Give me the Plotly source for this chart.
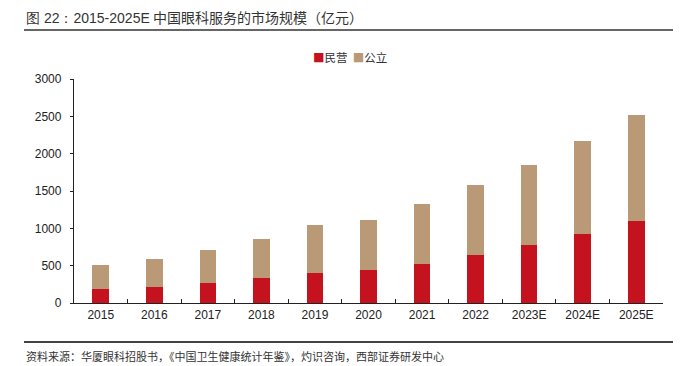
import plotly.graph_objects as go

categories = ["2015", "2016", "2017", "2018", "2019", "2020", "2021", "2022", "2023E", "2024E", "2025E"]
private_vals = [182, 218, 263, 335, 397, 437, 526, 638, 772, 928, 1102]
public_vals = [321, 375, 447, 526, 642, 678, 804, 937, 1076, 1241, 1410]
y_ticks = [0, 500, 1000, 1500, 2000, 2500, 3000]

RED = "#C5121F"
TAN = "#BA9A76"
NUM_FONT = "Liberation Sans, Arial, sans-serif"
CJK_FONT = "Noto Sans CJK SC, sans-serif"

# the page places the figure 8px in from the top-left corner
OFF = 8
W, H = 699 - OFF, 366 - OFF
# plot-area edges in window pixels
PL, PR, PT, PB = 74, 663, 79, 303
L, R, T, B = PL - OFF, W - (PR - OFF), PT - OFF, H - (PB - OFF)
pw = PR - PL
ph = PB - PT

def px_x(p):
    return (p - PL) / pw

def px_y(p):
    return (PB - p) / ph

fig = go.Figure()
fig.add_trace(go.Bar(x=categories, y=private_vals, name="民营", marker=dict(color=RED, line=dict(width=0))))
fig.add_trace(go.Bar(x=categories, y=public_vals, name="公立", marker=dict(color=TAN, line=dict(width=0))))

fig.update_layout(
    width=W, height=H,
    barmode="stack", bargap=0.69,
    margin=dict(l=L, r=R, t=T, b=B, pad=0),
    paper_bgcolor="white", plot_bgcolor="white",
    showlegend=False,
    font=dict(family=NUM_FONT, size=12, color="#222222"),
    xaxis=dict(
        type="category", showline=True, linecolor="#222222", linewidth=1.3,
        ticks="inside", ticklen=4, tickcolor="#222222", tickson="boundaries",
        showgrid=False, tickfont=dict(family=NUM_FONT, size=12, color="#222222"),
    ),
    yaxis=dict(
        range=[0, 3000], tickvals=y_ticks, showline=True, linecolor="#222222", linewidth=1.3,
        ticks="outside", ticklen=3, tickcolor="#222222", showgrid=False, zeroline=False,
        tickfont=dict(family=NUM_FONT, size=12, color="#222222"), ticklabelstandoff=6,
    ),
)

# Title
fig.add_annotation(
    xref="paper", yref="paper", x=px_x(24), y=px_y(17), xanchor="left", yanchor="middle",
    showarrow=False,
    text="<span style='font-family:Liberation Sans, Arial'>图 22：2015-2025E</span> 中国眼科服务的市场规模（亿元）",
    font=dict(family=CJK_FONT, size=14, color="#333333"),
)
# Title rule
fig.add_shape(type="line", xref="paper", yref="paper", x0=px_x(24), x1=px_x(673), y0=px_y(30), y1=px_y(30),
              line=dict(color="#333333", width=1.5))
# Legend (custom)
fig.add_annotation(
    xref="paper", yref="paper", x=px_x(311), y=px_y(57), xanchor="left", yanchor="middle", showarrow=False,
    text=f"<span style='color:{RED}'>■</span>民营  <span style='color:{TAN}'>■</span>公立",
    font=dict(family=CJK_FONT, size=11.5, color="#333333"),
)
# Footer rule
fig.add_shape(type="line", xref="paper", yref="paper", x0=px_x(24), x1=px_x(673), y0=px_y(342), y1=px_y(342),
              line=dict(color="#444444", width=2))
# Source
fig.add_annotation(
    xref="paper", yref="paper", x=px_x(24), y=px_y(356), xanchor="left", yanchor="middle", showarrow=False,
    text="资料来源：华厦眼科招股书，《中国卫生健康统计年鉴》，灼识咨询，西部证券研发中心",
    font=dict(family=CJK_FONT, size=11, color="#333333"),
)

fig.write_html("out.html")
